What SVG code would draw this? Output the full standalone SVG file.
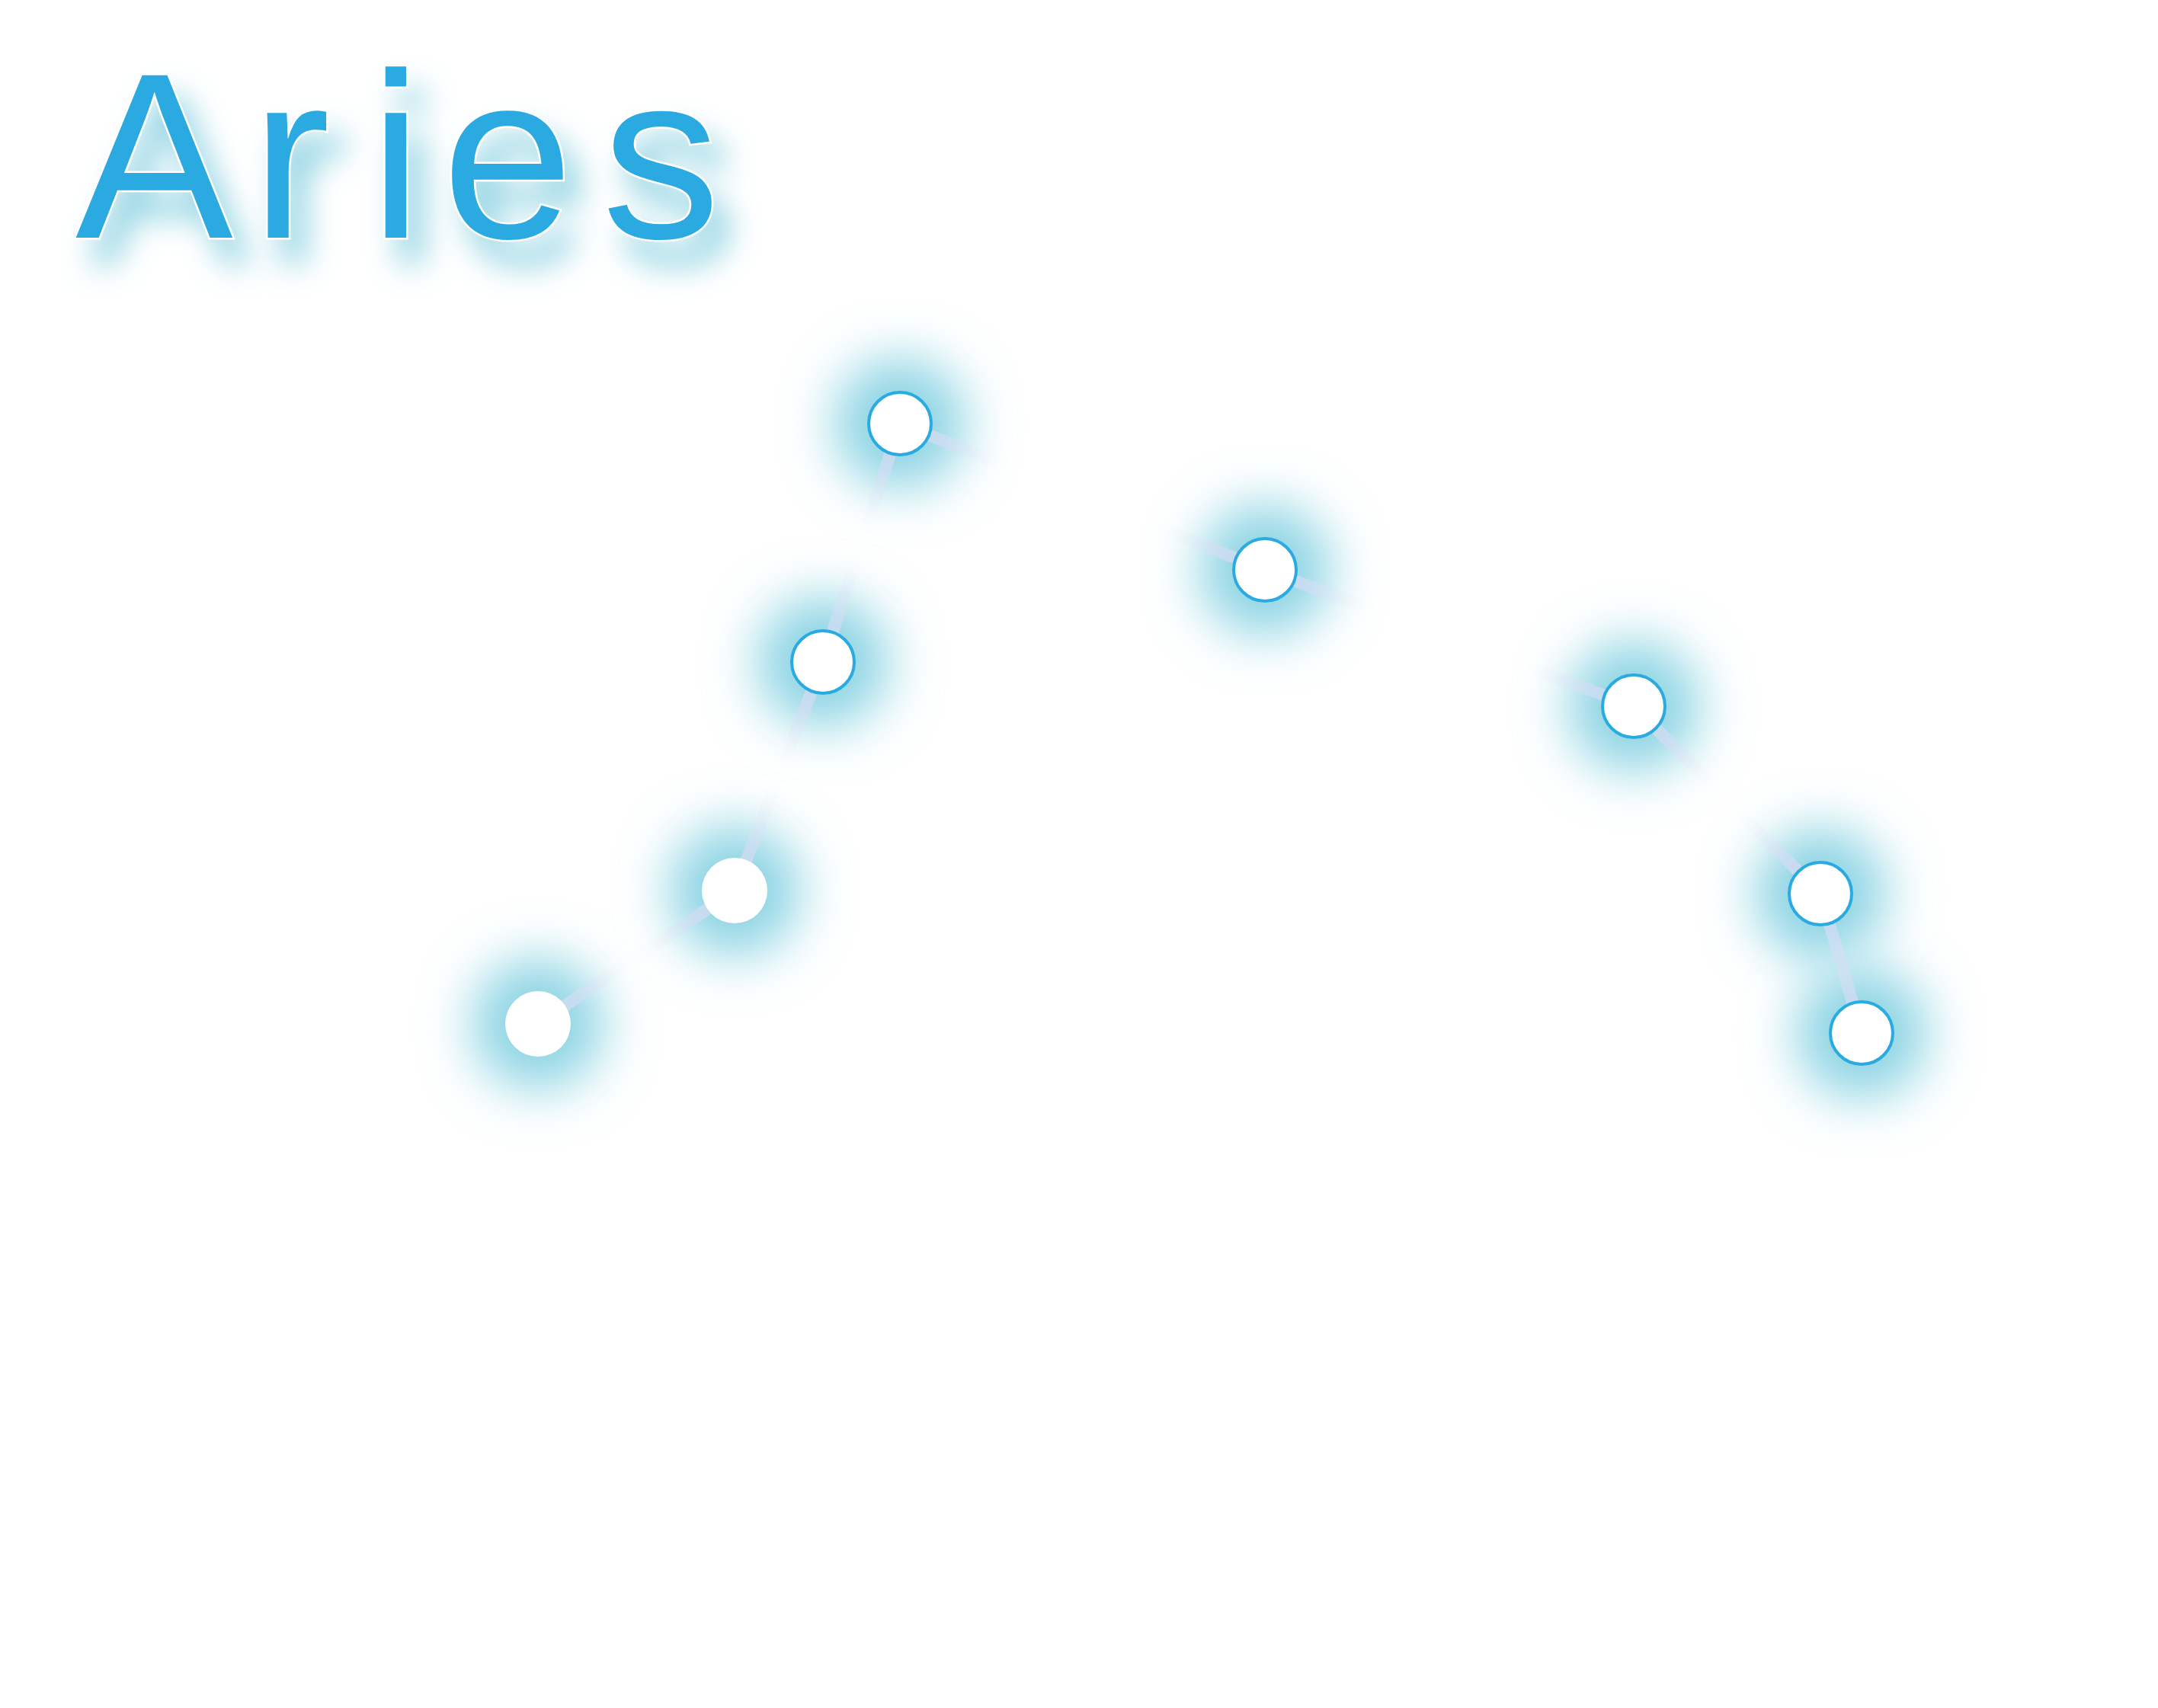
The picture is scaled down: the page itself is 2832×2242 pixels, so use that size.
<svg xmlns="http://www.w3.org/2000/svg" width="2832" height="2242" viewBox="0 0 2832 2242">
<defs>
<style>
.title{font-family:"Liberation Sans","DejaVu Sans",sans-serif;font-size:310px;fill:#29aae1;stroke:#ffffff;stroke-width:5;paint-order:stroke;}
.glow{fill:#8ad3e3;}
.mglow{fill:#ffffff;}
.star{fill:#ffffff;stroke:#29aae1;stroke-width:4;}
.star-plain{fill:#ffffff;}
.link{stroke:#e2dcf6;stroke-opacity:0.7;stroke-width:16;fill:none;stroke-linecap:round;}
</style>
<filter id="shadowT" x="-20%" y="-40%" width="150%" height="200%">
<feGaussianBlur in="SourceAlpha" stdDeviation="20" result="b"/>
<feOffset in="b" dx="20" dy="32" result="o"/>
<feFlood flood-color="#86cfe0" flood-opacity="0.95"/>
<feComposite in2="o" operator="in" result="s"/>
<feMerge><feMergeNode in="s"/><feMergeNode in="SourceGraphic"/></feMerge>
</filter>
<filter id="blurS" x="-150%" y="-150%" width="400%" height="400%"><feGaussianBlur stdDeviation="34"/></filter>
<mask id="glowMask" maskUnits="userSpaceOnUse" x="0" y="0" width="2832" height="2242">
<rect width="2832" height="2242" fill="#000000"/>
<circle class="mglow" cx="1181" cy="556" r="86" filter="url(#blurS)"/>
<circle class="mglow" cx="1660" cy="748" r="86" filter="url(#blurS)"/>
<circle class="mglow" cx="1080" cy="869" r="86" filter="url(#blurS)"/>
<circle class="mglow" cx="2144" cy="927" r="86" filter="url(#blurS)"/>
<circle class="mglow" cx="964" cy="1169" r="86" filter="url(#blurS)"/>
<circle class="mglow" cx="706" cy="1344" r="86" filter="url(#blurS)"/>
<circle class="mglow" cx="2389" cy="1173" r="86" filter="url(#blurS)"/>
<circle class="mglow" cx="2443" cy="1356" r="86" filter="url(#blurS)"/>
</mask>
</defs>
<rect width="2832" height="2242" fill="#ffffff"/>
<g id="title">
<text class="title" filter="url(#shadowT)" y="312"><tspan x="99">A</tspan><tspan x="330">r</tspan><tspan x="485">i</tspan><tspan x="580">e</tspan><tspan x="790">s</tspan></text>
</g>
<g id="glows">
<circle class="glow" cx="1181" cy="556" r="86" filter="url(#blurS)"/>
<circle class="glow" cx="1660" cy="748" r="86" filter="url(#blurS)"/>
<circle class="glow" cx="1080" cy="869" r="86" filter="url(#blurS)"/>
<circle class="glow" cx="2144" cy="927" r="86" filter="url(#blurS)"/>
<circle class="glow" cx="964" cy="1169" r="86" filter="url(#blurS)"/>
<circle class="glow" cx="706" cy="1344" r="86" filter="url(#blurS)"/>
<circle class="glow" cx="2389" cy="1173" r="86" filter="url(#blurS)"/>
<circle class="glow" cx="2443" cy="1356" r="86" filter="url(#blurS)"/>
</g>
<g id="connectors" mask="url(#glowMask)">
<line class="link" x1="706" y1="1344" x2="964" y2="1169"/>
<line class="link" x1="964" y1="1169" x2="1080" y2="869"/>
<line class="link" x1="1080" y1="869" x2="1181" y2="556"/>
<line class="link" x1="1181" y1="556" x2="1660" y2="748"/>
<line class="link" x1="1660" y1="748" x2="2144" y2="927"/>
<line class="link" x1="2144" y1="927" x2="2389" y2="1173"/>
<line class="link" x1="2389" y1="1173" x2="2443" y2="1356"/>
</g>
<g id="star1"><circle class="star" cx="1181" cy="556" r="41"/></g>
<g id="star2"><circle class="star" cx="1660" cy="748" r="41"/></g>
<g id="star3"><circle class="star" cx="1080" cy="869" r="41"/></g>
<g id="star4"><circle class="star" cx="2144" cy="927" r="41"/></g>
<g id="star5"><circle class="star-plain" cx="964" cy="1169" r="43"/></g>
<g id="star6"><circle class="star-plain" cx="706" cy="1344" r="43"/></g>
<g id="star7"><circle class="star" cx="2389" cy="1173" r="41"/></g>
<g id="star8"><circle class="star" cx="2443" cy="1356" r="41"/></g>
</svg>
